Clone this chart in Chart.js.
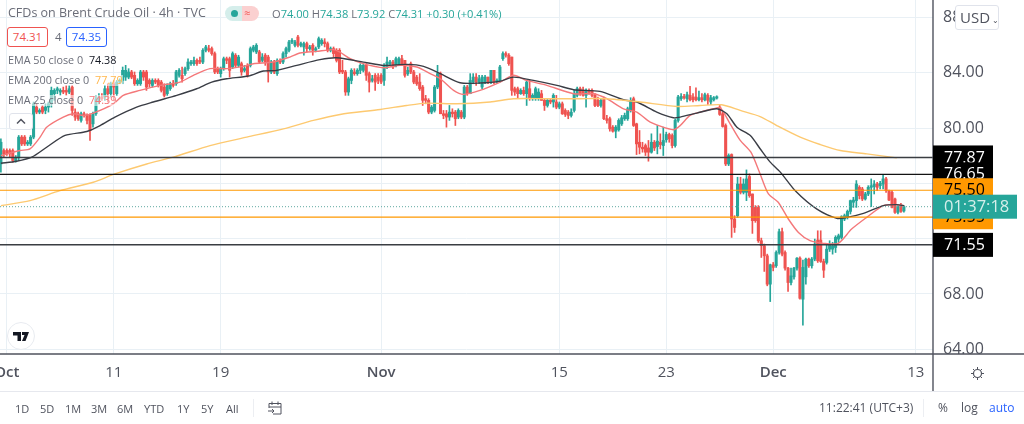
<!DOCTYPE html>
<html lang="en">
<head>
<meta charset="UTF-8">
<title>CFDs on Brent Crude Oil</title>
<style>
    html, body { margin: 0; padding: 0; background: #fff; width: 1024px; height: 424px; overflow: hidden; }
    body { position: relative; font-family: "Open Sans", sans-serif; color: #50535e; }
    canvas { position: absolute; left: 0; top: 0; }
    .t { position: absolute; white-space: nowrap; line-height: 1; }
    .soft { background: rgba(255, 255, 255, 0.55); }
    .range { font-size: 11px; top: 403px; color: #50535e; }
    .box { position: absolute; box-sizing: border-box; background: #fff; border-radius: 3px; }
</style>
</head>
<body>
<canvas id="chart" width="1024" height="424"></canvas>

<div class="t" style="left:8px;top:7px;font-size:12.5px;color:#6a6d78">CFDs on Brent Crude Oil · 4h · TVC</div>
<div class="box" style="left:225px;top:6px;width:34px;height:15px;border-radius:8px;background:linear-gradient(90deg,#d5eeeb 50%,#fbd0d0 50%)"></div>
<div class="box" style="left:231px;top:10px;width:7px;height:7px;border-radius:50%;background:#26a69a"></div>
<div class="t" style="left:244px;top:7px;font-size:11px;color:#ef5350">≈</div>
<div class="t" style="left:272px;top:8px;font-size:11.1px;color:#26a69a"><span style="color:#6a6d78">O</span>74.00 <span style="color:#6a6d78">H</span>74.38 <span style="color:#6a6d78">L</span>73.92 <span style="color:#6a6d78">C</span>74.31 +0.30 (+0.41%)</div>

<div class="box t" style="left:7px;top:27px;width:41px;height:20px;border:1px solid #ef5350;color:#ef5350;font-size:11.5px;text-align:center;line-height:18px">74.31</div>
<div class="t" style="left:55px;top:31px;font-size:11.5px;color:#6a6d78">4</div>
<div class="box t" style="left:66px;top:27px;width:41px;height:20px;border:1px solid #2962ff;color:#2962ff;font-size:11.5px;text-align:center;line-height:18px">74.35</div>

<div class="t soft" style="left:8px;top:55px;font-size:10.8px;color:#6a6d78">EMA 50 close 0 <span style="color:#131722;margin-left:3px">74.38</span></div>
<div class="t soft" style="left:8px;top:75px;font-size:10.8px;color:#6a6d78">EMA 200 close 0 <span style="color:#ffb74d;margin-left:3px">77.79</span></div>
<div class="t soft" style="left:8px;top:95px;font-size:10.8px;color:#6a6d78">EMA 25 close 0 <span style="color:#f4787a;margin-left:3px">74.39</span></div>
<div class="box" style="left:9px;top:113px;width:24px;height:17px;border:1px solid #e0e3eb">
    <svg width="22" height="15" style="display:block"><path d="M7 9.5 L11 5.5 L15 9.5" fill="none" stroke="#50535e" stroke-width="1.5"/></svg>
</div>

<div class="box" style="left:7px;top:322px;width:28px;height:28px;border-radius:50%;border:1px solid #e8ebf0">
    <svg width="26" height="26" style="display:block"><path d="M5 9 H13 V18 H9.5 V12.5 H5 Z M14 9 H21 L17.5 18 H14 L16.5 12 H14 Z" fill="#131722"/></svg>
</div>

<div class="box t" style="left:955px;top:5px;width:44px;height:25px;border:1px solid #e0e3eb;font-size:15px;color:#50535e;line-height:23px;padding-left:4px">USD<span style="font-size:8px;margin-left:2px">⌄</span></div>

<div class="t range" style="left:15px">1D</div>
<div class="t range" style="left:40px">5D</div>
<div class="t range" style="left:65px">1M</div>
<div class="t range" style="left:91px">3M</div>
<div class="t range" style="left:117px">6M</div>
<div class="t range" style="left:144px">YTD</div>
<div class="t range" style="left:177px">1Y</div>
<div class="t range" style="left:201px">5Y</div>
<div class="t range" style="left:226px">All</div>
<div style="position:absolute;left:253px;top:399px;width:1px;height:18px;background:#eceef2"></div>
<svg style="position:absolute;left:267px;top:400px" width="16" height="16"><path d="M2 3.5 H14 V14 H6 M2 7 H14 M5 1.5 V5 M11 1.5 V5 M2 3.5 V8 M1 11 H7 M5 9 L7 11 L5 13" fill="none" stroke="#50535e" stroke-width="1"/></svg>

<div class="t" style="left:819px;top:402px;font-size:12px;color:#50535e">11:22:41 (UTC+3)</div>
<div style="position:absolute;left:923px;top:399px;width:1px;height:18px;background:#eceef2"></div>
<div class="t" style="left:938px;top:402px;font-size:12px;color:#50535e">%</div>
<div class="t" style="left:961px;top:402px;font-size:12px;color:#50535e">log</div>
<div class="t" style="left:989px;top:402px;font-size:12px;color:#2962ff">auto</div>
<svg style="position:absolute;left:970px;top:366px" width="15" height="15"><circle cx="7.5" cy="7.5" r="4" fill="none" stroke="#50535e" stroke-width="1.2"/><path d="M7.5 1 V3 M7.5 12 V14 M1 7.5 H3 M12 7.5 H14 M3 3 L4.5 4.5 M10.5 10.5 L12 12 M3 12 L4.5 10.5 M10.5 4.5 L12 3" stroke="#50535e" stroke-width="1"/></svg>

<script src="https://cdn.jsdelivr.net/npm/chart.js"></script>
<script>
// 4h candles, oldest first
const opens = [
    77.40,78.37,78.37,78.37,78.37,77.65,77.89,79.34,79.34,78.85,
    78.85,79.34,81.51,81.15,81.51,81.27,81.51,81.75,82.48,82.72,
    82.60,82.72,82.72,82.60,82.96,81.15,81.03,80.55,81.03,80.91,
    80.91,80.30,81.03,82.00,82.24,82.24,82.84,82.48,83.20,82.48,
    83.32,83.44,83.68,83.68,84.05,83.81,83.20,83.20,84.05,84.05,
    83.44,83.08,83.44,83.44,83.32,82.96,82.48,82.84,83.20,83.20,
    83.81,83.81,83.93,84.29,84.65,84.65,84.89,84.89,84.77,85.62,
    85.74,85.74,85.38,84.29,83.93,84.29,85.01,85.01,84.41,85.26,
    84.53,84.65,84.17,84.53,84.53,85.62,85.50,85.50,84.89,85.26,
    85.13,84.05,84.77,83.93,84.89,84.77,85.38,85.62,86.22,85.98,
    86.58,85.98,85.86,86.10,85.74,85.98,85.62,85.86,86.10,86.22,
    86.10,85.62,85.74,85.62,
    85.62,84.17,84.05,82.60,83.44,84.05,83.93,84.17,84.17,84.53,
    83.93,83.44,83.81,83.68,83.81,83.44,84.41,84.65,84.77,84.53,
    84.65,85.01,84.89,83.93,84.65,84.05,83.68,83.32,82.96,82.12,
    82.00,81.15,81.27,82.96,83.93,81.03,81.03,80.79,81.15,81.15,
    80.79,81.15,80.79,82.96,82.48,83.32,83.68,83.32,82.96,83.32,
    83.68,83.32,84.17,83.32,83.44,85.01,85.38,85.26,85.13,82.84,
    82.84,82.48,82.72,82.48,82.84,82.12,82.12,82.12,82.48,82.00,
    81.63,82.00,81.88,81.88,81.51,81.75,81.27,81.15,80.91,81.27,
    82.36,82.84,82.72,82.36,82.72,82.72,82.36,82.00,81.63,82.12,
    80.67,80.67,80.06,79.77,79.87,80.30,80.67,80.67,81.27,82.12,
    80.30,78.97,78.61,78.73,78.56,78.25,78.97,78.66,78.97,78.73,
    79.15,79.53,79.46,78.73,80.55,
    82.12,82.28,82.12,82.36,82.24,82.24,82.04,82.19,82.04,82.36,
    81.88,82.04,82.16,81.51,81.03,80.18,77.40,
    78.08,73.42,73.66,75.95,75.35,75.35,76.49,75.23,74.26,74.26,
    71.85,71.49,70.76,68.71,70.11,70.04,71.00,72.50,71.00,69.87,
    68.83,69.24,69.87,70.59,67.62,69.24,70.52,70.04,70.52,71.90,
    71.90,70.35,70.28,71.24,71.24,71.36,71.97,72.09,73.42,73.54,
    73.97,74.63,74.75,75.71,75.59,74.87,75.23,75.71,75.76,75.95,
    75.83,75.95,76.32,75.47,75.35,74.87,73.90,74.39,74.00
];
const closes = [
    78.97,78.13,78.13,78.13,77.65,77.89,79.34,78.85,78.85,78.97,
    79.34,81.75,81.15,81.27,81.15,81.51,81.75,82.72,82.72,82.84,
    82.72,82.60,82.60,82.84,81.27,80.79,80.67,81.03,80.91,80.55,
    79.82,81.03,82.12,82.24,82.12,82.84,82.48,83.20,82.96,83.32,
    83.44,84.17,84.17,84.05,83.68,83.20,83.44,84.05,83.68,82.96,
    83.20,83.44,83.32,83.08,82.72,82.36,83.08,83.20,83.08,84.05,
    84.17,83.56,84.29,84.77,84.77,84.89,84.65,84.77,85.62,85.86,
    85.62,85.38,84.05,84.05,84.29,85.01,84.89,84.17,85.38,84.53,
    85.13,84.05,84.29,83.81,85.74,85.86,85.98,84.77,85.13,84.77,
    84.05,84.77,84.05,84.89,84.77,85.38,85.74,86.22,86.34,86.22,
    85.98,86.10,86.10,85.74,85.86,85.62,85.74,86.46,86.34,86.10,
    85.62,85.74,85.38,84.89,
    84.05,84.05,82.60,83.56,84.17,83.93,84.17,84.53,84.53,83.81,
    83.32,83.56,83.32,83.44,83.32,84.53,84.77,84.77,84.41,85.01,
    85.01,84.65,83.81,84.17,84.05,83.32,83.20,82.84,82.00,82.00,
    81.15,81.51,82.96,83.93,81.03,80.91,80.79,81.15,81.03,80.67,
    81.27,80.79,82.96,82.48,83.44,83.68,83.32,83.56,83.68,83.68,
    83.32,84.17,83.32,83.44,84.41,85.38,85.26,84.65,82.72,82.60,
    82.48,82.72,82.48,83.32,82.12,82.36,82.84,82.60,82.00,81.63,
    82.00,81.88,82.36,81.51,81.75,81.03,80.98,80.91,81.15,82.48,
    82.84,82.48,82.36,82.72,82.60,82.36,81.63,81.63,82.00,80.67,
    80.55,79.94,79.77,80.06,80.55,80.74,80.91,81.39,81.88,80.18,
    78.85,78.61,78.49,78.25,78.25,78.97,78.56,79.05,78.80,79.10,
    79.53,79.22,78.73,80.55,82.24,
    82.28,82.19,82.41,82.04,82.04,82.04,82.19,82.04,82.41,82.00,
    82.19,82.19,82.26,80.98,80.11,77.40,78.01,
    73.42,72.81,75.95,75.35,75.95,76.32,75.11,73.30,73.30,71.85,
    71.49,70.76,68.71,70.11,69.92,71.00,72.50,70.88,69.87,68.83,
    69.31,69.87,70.59,67.69,69.92,70.52,70.04,70.52,71.61,70.40,
    70.35,69.72,71.24,71.56,71.49,72.09,72.21,73.59,73.66,73.97,
    74.75,74.79,75.95,75.11,74.87,75.23,75.71,75.83,75.95,75.71,
    76.00,76.32,75.47,74.79,74.26,73.90,74.32,73.97,74.31
];
const highs = [
    79.22,78.49,78.49,78.49,78.49,78.01,79.46,79.46,79.46,79.10,
    79.46,81.88,81.75,81.39,81.63,81.75,81.88,82.96,82.84,82.96,
    82.84,82.96,83.08,83.08,83.08,81.39,81.15,81.15,81.15,81.03,
    81.03,81.15,82.36,82.48,82.48,83.08,83.20,83.32,83.44,83.44,
    83.56,84.41,84.53,84.29,84.17,84.05,83.56,84.17,84.17,84.17,
    83.56,83.56,83.56,83.56,83.44,83.20,83.20,83.32,83.44,84.17,
    84.29,84.41,84.41,85.01,84.89,85.13,85.01,85.13,85.74,85.98,
    85.98,85.86,85.50,84.41,84.41,85.13,85.13,85.13,85.50,85.38,
    85.26,84.77,84.53,84.65,85.86,85.98,86.10,85.62,85.38,85.38,
    85.26,84.89,84.89,85.01,85.01,85.50,85.86,86.34,86.46,86.34,
    86.70,86.22,86.22,86.22,85.98,86.10,85.86,86.58,86.46,86.46,
    86.22,85.86,85.86,85.74,
    85.74,84.89,84.17,83.68,84.29,84.29,84.29,84.65,84.65,84.65,
    84.05,83.81,83.93,83.93,83.93,84.65,85.13,84.89,84.89,85.13,
    85.13,85.26,84.89,84.41,84.77,84.17,83.81,83.93,83.08,82.36,
    82.12,81.63,83.08,84.53,84.05,81.27,81.27,81.63,81.39,81.27,
    81.39,81.27,83.08,83.08,83.93,83.93,83.93,83.81,83.81,83.81,
    83.68,84.17,84.17,83.56,84.53,85.50,85.50,85.38,85.13,82.96,
    82.96,82.84,82.96,83.44,83.44,82.48,82.96,82.84,82.72,82.12,
    82.12,82.12,82.48,82.36,81.88,81.88,81.39,81.27,81.39,82.72,
    82.96,82.96,82.96,82.84,82.84,82.84,82.48,82.24,82.12,82.24,
    80.91,80.79,80.18,80.18,80.67,80.91,81.08,81.51,82.19,82.24,
    80.35,79.82,78.97,78.85,79.10,79.58,79.10,80.18,79.58,80.06,
    79.70,79.63,79.58,80.67,82.36,
    82.48,82.43,82.60,83.01,82.48,82.91,82.67,82.48,82.53,82.48,
    82.36,82.28,82.33,81.63,81.15,80.30,78.13,
    78.13,73.66,76.44,76.44,76.32,76.97,76.68,75.23,74.39,74.39,
    72.04,71.61,70.88,70.16,70.28,71.12,72.69,72.77,71.12,69.92,
    69.87,69.92,70.64,70.69,70.45,70.59,70.59,70.64,71.97,72.57,
    72.57,70.52,71.61,71.85,71.73,72.21,72.33,73.66,73.78,74.07,
    74.79,74.99,76.20,75.83,75.71,75.35,75.83,76.32,76.20,76.08,
    76.15,76.63,76.44,75.52,75.47,74.94,74.39,74.56,74.38
];
const lows = [
    76.80,77.89,78.01,77.89,77.53,77.53,77.65,78.73,78.73,78.73,
    78.73,79.22,81.03,81.03,81.03,81.03,81.15,81.51,82.00,82.48,
    82.36,82.48,82.36,82.48,80.91,80.55,80.55,80.43,80.79,80.30,
    79.10,80.06,80.91,81.75,82.00,82.00,81.88,82.24,82.00,82.36,
    83.20,83.20,83.44,83.56,83.56,83.08,83.08,83.08,83.44,82.72,
    82.96,82.96,83.20,82.96,82.60,82.24,82.36,82.72,82.96,83.08,
    83.68,83.32,83.81,84.17,84.53,84.53,84.53,84.65,84.65,85.50,
    85.50,85.26,83.93,83.93,83.68,84.17,84.65,83.68,84.29,84.41,
    84.41,83.81,84.05,83.68,84.41,85.50,85.38,84.65,84.77,84.53,
    83.32,83.93,83.93,83.81,84.65,84.65,85.13,85.50,86.10,85.86,
    85.86,85.86,85.26,85.50,85.62,85.26,85.50,85.74,85.98,85.86,
    85.50,85.50,85.13,84.77,
    83.93,83.93,82.36,82.36,83.20,83.81,83.81,83.93,84.05,83.44,
    82.60,83.32,82.72,83.20,83.20,83.08,84.29,84.53,84.29,84.41,
    84.53,84.53,83.68,83.81,83.93,83.20,83.08,82.72,81.63,81.75,
    81.03,81.03,81.15,82.84,81.03,80.67,80.06,80.55,80.79,80.18,
    80.67,80.67,80.67,82.36,82.48,83.20,83.08,83.20,82.84,83.20,
    83.20,83.20,83.20,83.20,83.32,84.89,85.13,84.53,82.36,82.36,
    82.12,82.43,82.36,81.63,82.00,82.00,82.00,82.00,82.00,81.27,
    81.51,81.75,81.51,81.39,81.39,80.98,80.83,80.67,80.79,81.15,
    82.24,82.36,82.30,81.51,82.43,82.24,81.55,81.55,81.51,80.60,
    80.35,79.77,79.70,79.29,79.77,80.18,80.55,80.55,81.15,80.11,
    78.08,78.13,78.25,78.01,77.60,78.18,78.37,78.13,78.49,78.01,
    78.97,78.97,78.56,78.61,80.43,
    82.00,82.09,81.88,81.95,81.88,81.95,81.95,81.88,81.95,81.70,
    81.70,81.95,82.09,80.91,80.06,77.28,77.28,
    72.09,72.45,73.54,75.23,75.23,74.75,74.99,72.38,73.18,71.73,
    70.64,69.63,68.59,67.45,69.67,69.92,70.88,70.76,69.72,68.18,
    68.66,69.07,69.72,67.62,65.74,68.71,69.92,69.87,70.40,70.28,
    70.28,69.19,70.16,71.07,70.88,71.00,71.73,71.97,73.30,73.42,
    73.78,74.26,74.26,74.87,74.75,74.79,75.11,74.32,75.23,75.47,
    75.59,75.59,75.35,74.75,74.22,73.83,73.78,73.90,73.92
];

// moving averages, read at the bars where the curves bend
const ema25Bars = [0,6.4,9.8,13.2,15.4,21,24.4,27.8,31.1,37.9,41.2,46.8,53.6,60.3,64.8,70.4,76,81.6,85,91.7,97.3,100.7,106.3,111.9,
    114,117.6,122,128.8,134.4,140,144.5,147.9,152.4,155.7,161.3,168.1,172.6,177,183.8,192.8,199.5,204,209.6,214.1,218.6,226.4,
    228.7,232,235.4,239.9,242.2,245.5,248.9,252.5,255.6,258.4,261.7,265.1,268.5,272.4,276.9,281.9,286.4,291.5,297.1,301.6,304.1];
const ema25 = [78.01,78.37,78.49,79.34,80.06,80.79,81.03,80.91,81.08,81.75,82.36,82.72,83.08,83.32,83.81,84.29,84.29,84.46,84.65,84.77,85.13,85.42,85.54,85.67,
    85.50,85.01,84.65,84.36,84.53,84.41,83.93,83.56,82.72,82.43,82.72,83.32,83.81,83.44,83.08,82.48,82.48,82.12,81.39,81.15,80.43,79.87,
    80.18,80.91,81.15,81.39,81.46,80.30,79.10,78.25,76.68,75.23,74.63,73.42,72.45,71.85,71.66,71.66,72.69,73.54,74.39,74.46,74.39];

const ema50Bars = [0,5.3,10.4,15.4,21.6,28.9,33.4,38.4,45.7,51.3,59.2,65.9,71,76,83.3,88.4,92.9,99.6,107.4,113,
    123.2,128.8,136.6,142.3,147.9,154.6,161.3,168.1,172.6,179.3,187.2,192.8,201.7,209.6,214.1,220.8,226.4,
    228.7,234.3,241,244.4,247.8,252.3,255.6,259,262.4,267.6,274.6,281.4,284.8,290.4,297.1,301.6,304.1];
const ema50 = [77.45,77.60,77.89,78.61,79.46,79.75,80.18,80.79,81.51,81.88,82.36,82.84,83.32,83.56,83.76,84.12,84.17,84.53,84.94,85.08,
    84.72,84.53,84.60,84.46,83.93,83.27,83.25,83.39,83.68,83.44,83.08,82.77,82.65,82.04,81.88,81.15,80.74,
    80.79,81.08,81.39,81.03,80.06,79.46,78.50,77.53,76.81,75.42,74.15,73.47,73.54,73.83,74.39,74.46,74.38];

const ema200Bars = [0,9.8,19.9,31.1,38.4,49.1,58,70.4,82.8,95.1,105.2,114.2,127.7,136.6,143.4,153.5,164.7,172.6,183.8,195,204,215.2,227.6,
    235.4,242.7,248.9,255.6,261.2,269.1,275.8,282.6,291.5,301.6];
const ema200 = [74.38,74.75,75.47,76.08,76.68,77.40,77.89,78.73,79.34,79.94,80.55,80.98,81.34,81.63,81.80,81.75,81.88,82.12,82.12,82.12,82.12,81.88,81.56,
    81.63,81.68,81.27,80.83,80.18,79.34,78.81,78.37,78.13,77.84];

// drawn price levels
const blackLevels = [77.87, 76.65, 71.55];
const orangeLevels = [75.50, 73.55];
const lastPrice = 74.31;
const countdown = '01:37:18';

const priceTicks = [88, 84, 80, 76, 72, 68, 64];
const coveredTicks = [76, 72]; // these sit behind the price flags
const dateBars = [2, 38, 74, 128, 188, 224, 260, 308];
const dateLabels = ['Oct', '11', '19', 'Nov', '15', '23', 'Dec', '13'];
const monthLabels = ['Oct', 'Nov', 'Dec'];

const GREEN = '#26a69a', RED = '#ef5350';
const FONT = '"Open Sans", sans-serif';
const xMin = -0.3, xMax = 313.8;

const candleColors = opens.map((o, i) => closes[i] >= o ? GREEN : RED);
const pts = (xs, ys) => xs.map((x, i) => ({ x: x, y: ys[i] }));
const level = (v, color, width, dash) => ({
    type: 'line', order: 0, data: [{ x: xMin, y: v }, { x: xMax, y: v }],
    borderColor: color, borderWidth: width, borderDash: dash || [], pointRadius: 0
});
const ema = (xs, ys, color, width) => ({
    type: 'line', order: 1, data: pts(xs, ys), borderColor: color, borderWidth: width,
    pointRadius: 0, tension: 0.25
});

// price flags on the axis, painted in the same stacking order as the original
const flagsPlugin = {
    id: 'flags',
    afterDraw(chart) {
        const { ctx, scales: { y }, chartArea } = chart;
        const right = chartArea.right;
        ctx.save();
        ctx.strokeStyle = '#50535e';
        ctx.lineWidth = 1.4;
        ctx.beginPath();
        ctx.moveTo(right, 0); ctx.lineTo(right, 391);
        ctx.moveTo(0, chartArea.bottom); ctx.lineTo(1024, chartArea.bottom);
        ctx.stroke();
        ctx.strokeStyle = '#e6e8ee';
        ctx.lineWidth = 1;
        ctx.beginPath();
        ctx.moveTo(0, 391.5); ctx.lineTo(1024, 391.5);
        ctx.stroke();

        ctx.font = '16px ' + FONT;
        ctx.textBaseline = 'middle';
        const flag = (v, bg, fg) => {
            const py = y.getPixelForValue(v);
            ctx.fillStyle = bg;
            ctx.fillRect(right, py - 12, 60, 24);
            ctx.fillStyle = fg;
            ctx.fillText(v.toFixed(2), right + 11, py + 0.5);
        };
        flag(blackLevels[0], '#000', '#fff');
        flag(blackLevels[1], '#000', '#fff');
        flag(orangeLevels[1], '#ff9800', '#000');
        flag(orangeLevels[0], '#ff9800', '#000');
        flag(blackLevels[2], '#000', '#fff');

        const py = y.getPixelForValue(lastPrice);
        ctx.fillStyle = GREEN;
        ctx.fillRect(right, py - 12, 84, 24);
        ctx.fillStyle = '#d6efeb';
        ctx.font = '16.5px ' + FONT;
        ctx.fillText(countdown, right + 11, py + 0.5);
        ctx.restore();
    }
};

new Chart(document.getElementById('chart'), {
    data: {
        datasets: [
            level(blackLevels[0], '#3a3d42', 1.5),
            level(blackLevels[1], '#131313', 1.2),
            level(orangeLevels[0], '#ff9800', 1.2),
            level(orangeLevels[1], '#ff9800', 1.2),
            level(blackLevels[2], '#3a3d42', 1.5),
            level(lastPrice, '#5fa8a0', 1, [1, 2]),
            ema(ema200Bars, ema200, '#fdc970', 1.4),
            ema(ema50Bars, ema50, '#3a3d45', 1.4),
            ema(ema25Bars, ema25, '#f4787a', 1.4),
            {
                type: 'bar', order: 2, grouped: false, barThickness: 2.4, minBarLength: 1,
                data: opens.map((o, i) => ({ x: i, y: [o, closes[i]] })),
                backgroundColor: candleColors, borderWidth: 0
            },
            {
                type: 'bar', order: 3, grouped: false, barThickness: 1,
                data: highs.map((h, i) => ({ x: i, y: [lows[i], h] })),
                backgroundColor: candleColors, borderWidth: 0
            }
        ]
    },
    options: {
        responsive: false,
        animation: false,
        devicePixelRatio: 1,
        layout: { padding: 0 },
        plugins: { legend: { display: false }, tooltip: { enabled: false } },
        scales: {
            x: {
                type: 'linear', min: xMin, max: xMax, offset: false,
                afterFit: s => { s.height = 70; s.paddingLeft = 0; s.paddingRight = 0; },
                afterBuildTicks: s => { s.ticks = dateBars.map(v => ({ value: v })); },
                grid: { color: '#e9f0f5', drawTicks: false, offset: false },
                border: { display: false },
                ticks: {
                    autoSkip: false, maxRotation: 0, padding: 10, color: '#50535e',
                    callback: v => dateLabels[dateBars.indexOf(v)],
                    font: c => ({
                        family: FONT, size: 15,
                        weight: monthLabels.includes(dateLabels[c.index]) ? '600' : '400'
                    })
                }
            },
            y: {
                position: 'right', min: 63.66, max: 89.255,
                afterFit: s => { s.width = 91; s.paddingTop = 0; s.paddingBottom = 0; },
                afterBuildTicks: s => { s.ticks = priceTicks.map(v => ({ value: v })); },
                grid: { color: '#e9f0f5', drawTicks: false },
                border: { display: false },
                ticks: {
                    padding: 10, color: '#50535e', autoSkip: false,
                    callback: v => coveredTicks.includes(v) ? '' : v.toFixed(2),
                    font: { family: FONT, size: 16 }
                }
            }
        }
    },
    plugins: [flagsPlugin]
});
</script>
</body>
</html>
